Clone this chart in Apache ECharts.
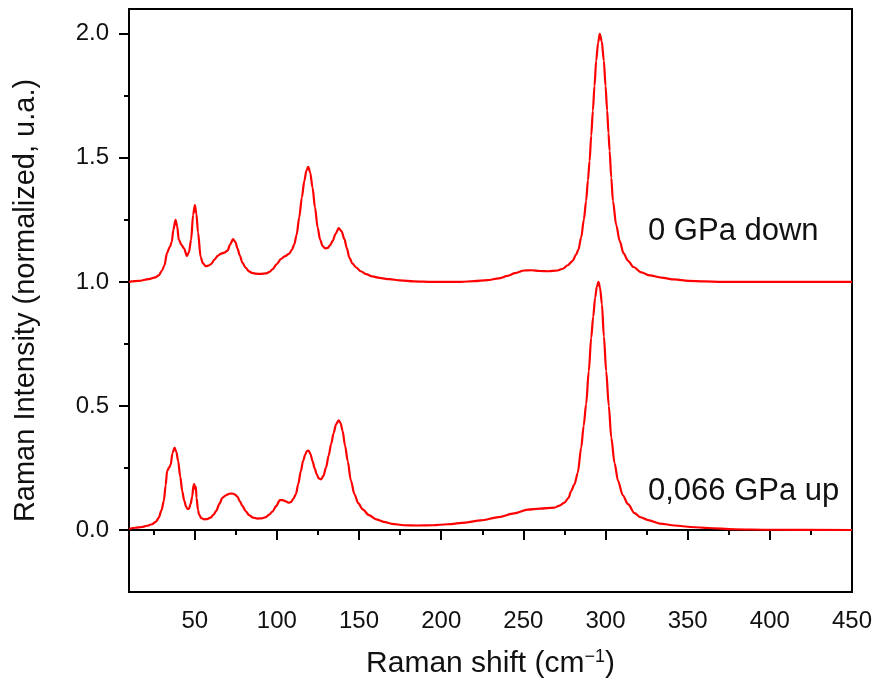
<!DOCTYPE html>
<html>
<head>
<meta charset="utf-8">
<script src="https://cdn.jsdelivr.net/npm/echarts@6/dist/echarts.min.js"></script>
<style>
  html, body { margin: 0; padding: 0; background: #fff; }
  #chart { width: 877px; height: 688px; }
</style>
</head>
<body>
<div id="chart"></div>
<script>
// Raman spectra, 0 GPa (down) shifted by +1.0 and 0,066 GPa (up)
const downShift = [10,16,22,26,28.1,30,31.5,33.2,34.8,36,37,38.3,39.3,40.3,42,43.5,45.2,46.5,47.8,49,50.1,51,52,53.6,55,56.8,58.5,60,62,64,66,68,70,71.5,73.3,74.8,76,77.5,79,81,83.1,85,87.2,90,93.3,95.5,97.3,100,102.4,105,107.5,109.2,110.6,112,113.6,115.2,116.7,118,119.1,120.3,121.7,123.2,124.8,126.3,127.8,129.3,130.9,132.4,133.9,135.8,137.6,139.3,141.1,142.6,144.1,146,148.2,151,154.3,158,162.4,168.5,175,183.4,195,211.9,220,228.2,235,240.4,245,250.5,255,260,265,270.9,274,277,280,282.1,283.5,285.2,286.8,288.2,289.3,290.3,291.3,292.3,293.3,294.3,295.5,296.5,297.7,299,300,301,301.8,302.5,303.5,304.5,306.5,308.6,311,313.7,317,321.8,327,334,342,350.3,360,370.6,400,450];
const downIntensity = [1.0,1.004,1.011,1.018,1.026,1.045,1.065,1.118,1.14,1.16,1.21,1.25,1.225,1.17,1.148,1.135,1.105,1.12,1.17,1.27,1.31,1.275,1.2,1.1,1.075,1.063,1.066,1.072,1.09,1.105,1.114,1.118,1.126,1.15,1.172,1.16,1.135,1.105,1.078,1.057,1.042,1.036,1.033,1.032,1.034,1.04,1.051,1.072,1.092,1.104,1.114,1.13,1.152,1.19,1.26,1.34,1.407,1.45,1.464,1.44,1.38,1.3,1.219,1.17,1.145,1.135,1.137,1.148,1.165,1.195,1.217,1.205,1.172,1.135,1.098,1.074,1.058,1.043,1.031,1.022,1.016,1.011,1.006,1.002,1.0,1.0,1.003,1.007,1.014,1.024,1.035,1.046,1.047,1.044,1.043,1.046,1.053,1.067,1.085,1.11,1.13,1.18,1.25,1.327,1.41,1.488,1.59,1.69,1.79,1.891,1.965,2.0,1.97,1.891,1.79,1.69,1.6,1.528,1.42,1.327,1.23,1.165,1.115,1.085,1.06,1.038,1.026,1.017,1.01,1.004,1.002,1.0,1.0,1.0];

const upShift = [10,14,17.9,21,24,26.5,28.1,29.8,31.2,32.3,33.2,34.3,35.3,36.5,37.7,38.8,39.9,41.2,42.4,43.6,44.8,45.6,46.4,47.5,48.5,49.2,49.7,50.2,50.7,51.1,52,52.6,54,55.6,57.5,59.7,61.5,63.1,65,66.8,69,71,72.9,74.5,75.9,77.5,79,81,83.1,85.5,88.1,90.7,93.3,95.3,97.3,99.5,101.8,103.5,105.5,107,108.5,110,111.6,113,114.6,116,117.3,118.3,119.3,120.5,121.7,123,124.2,125.5,126.9,128.3,129.9,131.5,133,134.5,136,137.6,138.8,140,141.5,143.1,145,147.2,149.5,152.2,156,160.4,165,170,177.3,185,195,203.8,215,224.1,235,244.4,252.6,260,268.9,272,275,277.5,279.1,281.1,283.1,285.2,286.7,288.2,289.8,291.3,292.5,293.7,294.7,295.7,296.7,297.8,299,300.4,302,303.5,305.5,307.6,310.5,313.7,317.7,321,325.9,333,342.1,352,362.5,378.6,400,450];
const upIntensity = [0.005,0.009,0.012,0.017,0.023,0.034,0.05,0.08,0.117,0.18,0.238,0.25,0.262,0.31,0.332,0.315,0.278,0.215,0.157,0.118,0.093,0.085,0.085,0.105,0.135,0.18,0.185,0.165,0.175,0.13,0.08,0.063,0.048,0.043,0.044,0.05,0.062,0.077,0.105,0.13,0.14,0.146,0.147,0.143,0.135,0.115,0.097,0.076,0.06,0.05,0.046,0.047,0.052,0.062,0.074,0.096,0.12,0.12,0.115,0.11,0.112,0.125,0.145,0.185,0.238,0.28,0.305,0.318,0.32,0.305,0.278,0.248,0.225,0.208,0.204,0.218,0.251,0.3,0.346,0.39,0.426,0.442,0.43,0.399,0.34,0.278,0.2,0.144,0.108,0.083,0.06,0.043,0.033,0.025,0.019,0.018,0.019,0.023,0.03,0.039,0.052,0.067,0.082,0.086,0.09,0.098,0.11,0.13,0.157,0.184,0.23,0.332,0.42,0.507,0.64,0.775,0.86,0.937,0.98,1.0,0.975,0.91,0.78,0.641,0.5,0.372,0.27,0.198,0.14,0.104,0.068,0.052,0.04,0.026,0.018,0.012,0.008,0.003,0.001,0.0];

const xMajorTicks = [50,100,150,200,250,300,350,400,450];
const xMinorTicks = [25,75,125,175,225,275,325,375,425];
const yMajorTicks = [0,0.5,1.0,1.5,2.0];
const yMinorTicks = [0.25,0.75,1.25,1.75];

const labelDown = '0 GPa down';
const labelUp = '0,066 GPa up';

const FONT = '"Liberation Sans", Arial, sans-serif';
const pairs = (xs, ys) => xs.map((x, i) => [x, ys[i]]);

const chart = echarts.init(document.getElementById('chart'), null, { renderer: 'canvas' });

const tickFont = { color: '#111', fontSize: 24, fontFamily: FONT };

chart.setOption({
  animation: false,
  backgroundColor: '#fff',
  grid: { left: 129, right: 25, top: 9, bottom: 96, show: true, borderColor: '#000', borderWidth: 2 },
  xAxis: [
    {
      type: 'value', min: 10, max: 450,
      axisLine: { lineStyle: { color: '#000', width: 2 } },
      axisTick: { show: true, inside: false, length: 10, lineStyle: { color: '#000', width: 2 }, customValues: xMajorTicks },
      axisLabel: Object.assign({ margin: 17, customValues: xMajorTicks, formatter: v => String(v) }, tickFont),
      splitLine: { show: false },
      name: 'Raman shift (cm{sup|−1})',
      nameLocation: 'middle', nameGap: 56,
      nameTextStyle: {
        color: '#111', fontSize: 30, fontFamily: FONT,
        rich: { sup: { fontSize: 18, fontFamily: FONT, color: '#111', verticalAlign: 'top', padding: [0, 0, 14, 0] } }
      }
    },
    {
      type: 'value', min: 10, max: 450, position: 'bottom',
      axisLine: { show: false },
      axisTick: { show: true, inside: false, length: 5, lineStyle: { color: '#000', width: 2 }, customValues: xMinorTicks },
      axisLabel: { show: false },
      splitLine: { show: false }
    }
  ],
  yAxis: [
    {
      type: 'value', min: -0.25, max: 2.1,
      axisLine: { show: true, lineStyle: { color: '#000', width: 2 } },
      axisTick: { show: true, inside: false, length: 10, lineStyle: { color: '#000', width: 2 }, customValues: yMajorTicks },
      axisLabel: Object.assign({ margin: 20, customValues: yMajorTicks, formatter: v => v.toFixed(1) }, tickFont),
      splitLine: { show: false },
      name: 'Raman Intensity (normalized, u.a.)',
      nameLocation: 'middle', nameGap: 89,
      nameTextStyle: { color: '#111', fontSize: 29, fontFamily: FONT }
    },
    {
      type: 'value', min: -0.25, max: 2.1, position: 'left',
      axisLine: { show: false },
      axisTick: { show: true, inside: false, length: 5, lineStyle: { color: '#000', width: 2 }, customValues: yMinorTicks },
      axisLabel: { show: false },
      splitLine: { show: false }
    }
  ],
  series: [
    {
      name: labelDown, type: 'line', xAxisIndex: 0, yAxisIndex: 0,
      data: pairs(downShift, downIntensity),
      showSymbol: false, smooth: 0.3, smoothMonotone: 'x',
      lineStyle: { color: '#ff0000', width: 2.2 }
    },
    {
      name: labelUp, type: 'line', xAxisIndex: 0, yAxisIndex: 0,
      data: pairs(upShift, upIntensity),
      showSymbol: false, smooth: 0.3, smoothMonotone: 'x',
      lineStyle: { color: '#ff0000', width: 2.2 }
    }
  ],
  graphic: [
    { type: 'text', left: 648, top: 216, style: { text: labelDown, fill: '#111', font: '31px ' + FONT } },
    { type: 'text', left: 648, top: 476, style: { text: labelUp, fill: '#111', font: '31px ' + FONT } }
  ]
});
</script>
</body>
</html>
